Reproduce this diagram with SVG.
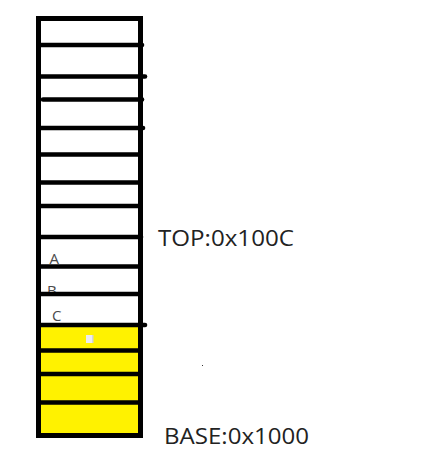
<svg xmlns="http://www.w3.org/2000/svg" width="434" height="466" viewBox="0 0 434 466">
<style>
.sep{stroke:#000;stroke-width:4.6;stroke-linecap:round;fill:none}
.lbl{font-family:"Open Sans","Noto Sans","Liberation Sans",sans-serif;fill:#222}
.cell{font-family:"Open Sans","Noto Sans","Liberation Sans",sans-serif;fill:#4a4a4a;font-size:15px}
</style>
<rect width="434" height="466" fill="#fff"/>
<g id="stack">
<rect id="used" x="41" y="327" width="97" height="106" fill="#fff200"/>
<rect x="86" y="335" width="7" height="8" fill="#ececf0"/>
<rect x="92" y="335" width="1.5" height="8" fill="#d4d4da"/>
<g id="cells-text">
<text class="cell" x="49.5" y="263.5">A</text>
<text class="cell" x="47" y="295.5">B</text>
<text class="cell" x="52" y="321">C</text>
</g>
<g id="separators">
<line class="sep" x1="41" y1="45" x2="142" y2="45"/>
<line class="sep" x1="41" y1="76.5" x2="145" y2="76.5"/>
<line class="sep" x1="43" y1="99.5" x2="142" y2="99.5"/>
<line class="sep" x1="41" y1="128" x2="143" y2="128"/>
<line class="sep" x1="41" y1="154.5" x2="138" y2="154.5"/>
<line class="sep" x1="41" y1="182.5" x2="138" y2="182.5"/>
<line class="sep" x1="41" y1="206" x2="138" y2="206"/>
<line class="sep" x1="41" y1="237" x2="141" y2="237"/>
<line class="sep" x1="41" y1="266.5" x2="138" y2="266.5"/>
<line class="sep" x1="41" y1="294" x2="138" y2="294"/>
<line class="sep" x1="41" y1="325" x2="145" y2="325"/>
<line class="sep" x1="41" y1="350.5" x2="138" y2="350.5"/>
<line class="sep" x1="41" y1="374" x2="138" y2="374"/>
<line class="sep" x1="41" y1="402.5" x2="138" y2="402.5"/>
</g>
<rect id="frame" x="38.5" y="18.5" width="102" height="417" fill="none" stroke="#000" stroke-width="5"/>
</g>
<g id="top-label"><text class="lbl" x="158" y="246" font-size="21" textLength="136" lengthAdjust="spacingAndGlyphs">TOP:0x100C</text></g>
<g id="base-label"><text class="lbl" x="164" y="444" font-size="21" textLength="145" lengthAdjust="spacingAndGlyphs">BASE:0x1000</text></g>
<rect x="202" y="365" width="1" height="1" fill="#333"/>
</svg>
